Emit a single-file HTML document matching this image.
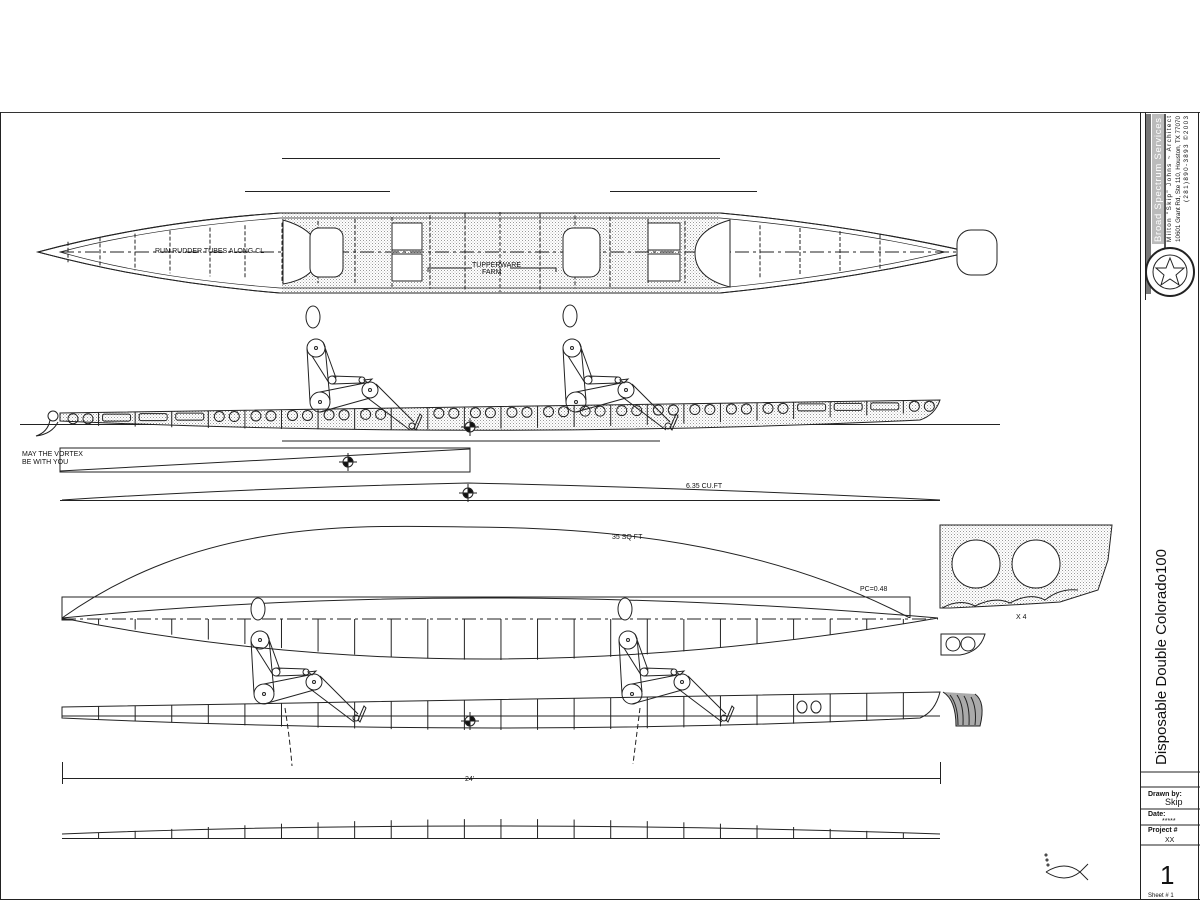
<!DOCTYPE html>
<html><head><meta charset="utf-8"><style>
html,body{margin:0;padding:0;background:#fff;}
svg{display:block;font-family:"Liberation Sans",sans-serif;}
</style></head><body>
<svg id="s" width="1200" height="900" viewBox="0 0 1200 900" xmlns="http://www.w3.org/2000/svg">
<defs>
<pattern id="dots" width="3" height="3" patternUnits="userSpaceOnUse"><rect width="3" height="3" fill="#fff"/><rect width="1" height="1" fill="#999"/><rect x="1.5" y="1.5" width="1" height="1" fill="#bbb"/></pattern>
<g id="fig" fill="none" stroke="#222" stroke-width="1">
<circle cx="0" cy="0" r="9"/><circle cx="0" cy="0" r="1.5"/>
<circle cx="4" cy="54" r="10"/><circle cx="4" cy="54" r="1.5"/>
<circle cx="16" cy="32" r="4"/><circle cx="46" cy="32" r="3"/>
<circle cx="54" cy="42" r="8"/><circle cx="54" cy="42" r="1.5"/>
<circle cx="96" cy="78" r="3"/>
<path d="M-9,0 L-6,54 M9,-2 L14,52 M-4,8 L13,35 M7,-6 L20,30 M16,28 L46,29 M16,36 L46,35 M4,44 L54,34 M4,64 L54,50 M49,48 L94,82 M60,36 L98,74 M48,32 L56,31 L52,35 Z M98,80 L104,66 L106,68 L100,82 Z"/>
</g>
<g id="tg" fill="none" stroke="#222"><circle cx="0" cy="0" r="5" fill="#fff"/><path d="M0,-5 A5,5 0 0 1 5,0 L0,0Z M0,5 A5,5 0 0 1 -5,0 L0,0Z" fill="#111"/><path d="M-9,0 H9 M0,-9 V9"/></g>
</defs>
<g fill="none" stroke="#222" stroke-width="1">
<!-- frame -->
<line x1="0" y1="112.5" x2="1200" y2="112.5" stroke="#333"/>
<line x1="0.5" y1="112" x2="0.5" y2="900"/>
<line x1="1140.5" y1="112" x2="1140.5" y2="900"/>
<line x1="1145.5" y1="112" x2="1145.5" y2="300"/>
<line x1="1140" y1="772" x2="1200" y2="772"/>
<line x1="1140" y1="787" x2="1200" y2="787"/>
<line x1="1140" y1="809" x2="1200" y2="809"/>
<line x1="1140" y1="825" x2="1200" y2="825"/>
<line x1="1140" y1="845" x2="1200" y2="845"/>
<line x1="1198.5" y1="112" x2="1198.5" y2="900"/>
<line x1="0" y1="899.5" x2="1200" y2="899.5"/>
<!-- logo block -->
<rect x="1146" y="114" width="5" height="180" fill="#777" stroke="none"/>
<rect x="1152" y="114" width="12" height="130" fill="#bbb" stroke="none"/>
<rect x="1164" y="114" width="2" height="150" fill="#555" stroke="none"/>
<circle cx="1170" cy="272" r="24" fill="#fff" stroke="#222" stroke-width="2"/>
<circle cx="1170" cy="272" r="17"/>
<path d="M1170,258 L1174,268 L1184,268 L1176,275 L1179,285 L1170,279 L1161,285 L1164,275 L1156,268 L1166,268 Z"/>

<!-- top lines -->
<line x1="282" y1="158.5" x2="720" y2="158.5"/>
<line x1="245" y1="191.5" x2="390" y2="191.5"/>
<line x1="610" y1="191.5" x2="757" y2="191.5"/>

<!-- plan view top -->
<path d="M38,252 Q150,222 280,213 L720,213 Q850,225 970,252 Q850,280 720,293 L280,293 Q150,282 38,252 Z" fill="#fff"/>
<path d="M282,213 L720,213 L720,293 L282,293 Z" fill="url(#dots)" stroke="none"/>
<path d="M38,252 Q150,222 280,213 L720,213 Q850,225 970,252 Q850,280 720,293 L280,293 Q150,282 38,252 Z"/>
<path d="M60,252 Q150,228 280,218 L720,218 Q850,230 945,252 Q850,275 720,288 L280,288 Q150,278 60,252 Z" stroke-width="0.7"/>
<line x1="60" y1="252" x2="960" y2="252" stroke-dasharray="14,4,3,4"/>
<g id="st1" stroke-dasharray="4,2"></g>
<path d="M283,220 Q318,230 318,253 Q318,278 283,284 Z" fill="#fff"/>
<rect x="310" y="228" width="33" height="49" rx="9" fill="#fff"/>
<rect x="392" y="223" width="30" height="27" fill="#fff"/>
<rect x="392" y="254" width="30" height="27" fill="#fff"/>
<rect x="563" y="228" width="37" height="49" rx="10" fill="#fff"/>
<rect x="648" y="223" width="32" height="27" fill="#fff"/>
<rect x="648" y="254" width="32" height="27" fill="#fff"/>
<path d="M730,220 Q695,230 695,253 Q695,278 730,287 Z" fill="#fff"/>
<rect x="957" y="230" width="40" height="45" rx="14" fill="#fff"/>

<!-- side profile top -->
<line x1="20" y1="424.5" x2="1000" y2="424.5"/>
<path d="M60,413 L940,400 Q935,415 920,420 Q500,440 60,421 Z" fill="url(#dots)"/>
<g id="side1"></g>
<circle cx="53" cy="416" r="5"/><path d="M50,420 Q48,432 36,436 Q52,434 58,422"/>
<path d="M428,272 L428,268 L472,268 M510,268 L556,268 L556,272"/>

<!-- vortex box -->
<line x1="282" y1="441" x2="660" y2="441"/>
<rect x="60" y="448" width="410" height="24"/>
<line x1="60" y1="471" x2="470" y2="449"/>
<line x1="60" y1="500.5" x2="940" y2="500.5"/>
<path d="M62,500 Q250,488 468,483 Q700,488 940,500"/>

<!-- big curve + plan lower -->
<path d="M62,618 C200,520 350,525 470,527 C600,528 760,540 910,618"/>
<rect x="62" y="597" width="848" height="23"/>
<path d="M62,618 Q470,578 938,618"/>
<path d="M62,618 Q470,700 938,618" fill="#fff"/>
<line x1="62" y1="619" x2="938" y2="619" stroke-dasharray="14,4,3,4"/>
<g id="plan2"></g>
<ellipse cx="258" cy="609" rx="7" ry="11" fill="#fff"/>
<ellipse cx="625" cy="609" rx="7" ry="11" fill="#fff"/>

<!-- sections right -->
<path d="M940,525 L1112,525 L1108,560 L1098,590 L1060,602 Q1000,606 950,608 L940,608 Z" fill="url(#dots)"/>
<circle cx="976" cy="564" r="24" fill="#fff"/><circle cx="1036" cy="564" r="24" fill="#fff"/>
<path d="M942,608 Q960,598 975,606 Q995,596 1010,603 Q1030,592 1045,600 Q1060,588 1078,590"/>
<path d="M941,634 L985,634 Q980,652 960,655 L941,655 Z"/>
<circle cx="953" cy="644" r="7"/><circle cx="968" cy="644" r="7"/>

<!-- lower side profile -->
<path d="M62,707 L940,692 Q935,712 920,718 Q500,738 62,718 Z" fill="#fff"/>
<line x1="62" y1="716" x2="940" y2="716"/>
<g id="side2"></g>
<path d="M943,692 Q956,700 956,726 L980,726 Q986,702 975,694" fill="#aaa" stroke="#222"/>
<path d="M950,695 Q958,705 958,725 M957,695 Q964,705 963,725 M964,696 Q970,706 969,725 M971,697 Q977,708 975,725"/>
<ellipse cx="802" cy="707" rx="5" ry="6"/><ellipse cx="816" cy="707" rx="5" ry="6"/>
<path d="M285,708 Q290,740 292,766 M640,708 Q636,740 633,764" stroke-dasharray="5,3"/>
<!-- dimension -->
<line x1="62" y1="778.5" x2="940" y2="778.5"/>
<line x1="62.5" y1="762" x2="62.5" y2="784"/><line x1="940.5" y1="762" x2="940.5" y2="784"/>
<!-- bottom strip -->
<path d="M62,834 Q470,818 940,834"/>
<line x1="62" y1="838.5" x2="940" y2="838.5"/>
<g id="strip"></g>

<!-- figures -->
<ellipse cx="313" cy="317" rx="7" ry="11"/><use href="#fig" x="316" y="348"/>
<ellipse cx="570" cy="316" rx="7" ry="11"/><use href="#fig" x="572" y="348"/>
<use href="#fig" x="260" y="640"/>
<use href="#fig" x="628" y="640"/>

<!-- targets -->
<use href="#tg" x="348" y="462"/><use href="#tg" x="468" y="493"/><use href="#tg" x="470" y="427"/><use href="#tg" x="470" y="721"/>

<!-- fish -->
<path d="M1046,872 Q1065,860 1080,872 L1088,864 M1046,872 Q1065,884 1080,872 L1088,880"/>
<circle cx="1046" cy="855" r="1"/><circle cx="1047" cy="860" r="1"/><circle cx="1048" cy="865" r="1"/>
</g>

<g fill="#111" font-size="7">
<text x="155" y="253">RUN RUDDER TUBES ALONG CL</text>
<text x="472" y="267">TUPPERWARE</text><text x="482" y="274">FARM</text>
<text x="22" y="456">MAY THE VORTEX</text><text x="22" y="464">BE WITH YOU</text>
<text x="686" y="488">6.35 CU.FT</text>
<text x="612" y="539">35 SQ FT</text>
<text x="860" y="591">PC=0.48</text>
<text x="1016" y="619">X 4</text>
<text x="465" y="781">24'</text>
<text x="1148" y="796" font-weight="bold">Drawn by:</text>
<text x="1165" y="805" font-size="9">Skip</text>
<text x="1148" y="816" font-weight="bold">Date:</text>
<text x="1162" y="823">*****</text>
<text x="1148" y="832" font-weight="bold">Project #</text>
<text x="1165" y="842">XX</text>
<text x="1160" y="884" font-size="26">1</text>
<text x="1148" y="897" font-size="6">Sheet # 1</text>
</g>
<text transform="translate(1166,765) rotate(-90)" font-size="15" fill="#111">Disposable Double Colorado100</text>
<g transform="translate(1161,242) rotate(-90)" font-size="6.3" fill="#111">
<text x="0" y="0" font-size="9.5" fill="#fff" textLength="124">Broad Spectrum Services</text>
<text x="0" y="10" textLength="126">Milton "Skip" Johns ~ Architect</text>
<text x="0" y="19" textLength="126">10601 Grant Rd, Ste 110, Houston, TX 77070</text>
<text x="40" y="27" textLength="86">(281)890-3893   ©2003</text>
</g>
</svg>
<script>
var NS="http://www.w3.org/2000/svg";
function L(g,x1,y1,x2,y2,extra){var e=document.createElementNS(NS,"line");e.setAttribute("x1",x1);e.setAttribute("y1",y1);e.setAttribute("x2",x2);e.setAttribute("y2",y2);if(extra)for(var k in extra)e.setAttribute(k,extra[k]);document.getElementById(g).appendChild(e);}
function C(g,x,y,r){var e=document.createElementNS(NS,"circle");e.setAttribute("cx",x);e.setAttribute("cy",y);e.setAttribute("r",r);document.getElementById(g).appendChild(e);}
function R(g,x,y,w,h){var e=document.createElementNS(NS,"rect");e.setAttribute("x",x);e.setAttribute("y",y);e.setAttribute("width",w);e.setAttribute("height",h);e.setAttribute("rx",2);document.getElementById(g).appendChild(e);}
var xs=[];for(var i=0;i<=24;i++)xs.push(62+i*36.58);
[68,100,135,170,210,245,282,318,355,392,430,465,500,540,575,610,648,685,720,760,800,840,880].forEach(function(x){var t=(x<500?(x-38)/(500-38):(970-x)/(970-500));var h=Math.min(40,Math.sqrt(Math.max(t,0))*40);L("st1",x,252-h,x,252+h);});
for(var i=1;i<24;i++){var x=xs[i];var yt=413-(x-60)*13/880;L("side1",x,yt,x,yt+12+Math.sin(Math.PI*(x-60)/870)*10);}
for(var i=0;i<24;i++){var x=xs[i]+18;var y=418-(x-60)*13/880;
 if((x>95&&x<210)||(x>790&&x<900)){R("side1",x-14,y-3,28,7);continue;}
 if(x>395&&x<430)continue;
 C("side1",x-7,y+1,5);C("side1",x+8,y+1,5);}
for(var i=1;i<24;i++){var x=xs[i];var t=Math.sin(Math.PI*(x-62)/876);L("plan2",x,619,x,619+t*41);}
for(var i=1;i<24;i++){var x=xs[i];var yt=707-(x-62)*15/878;L("side2",x,yt,x,718+Math.sin(Math.PI*(x-62)/870)*12);}
for(var i=1;i<24;i++){var x=xs[i];var t=Math.sin(Math.PI*(x-62)/878);L("strip",x,834-t*16+1,x,838);}
</script>
</body></html>
